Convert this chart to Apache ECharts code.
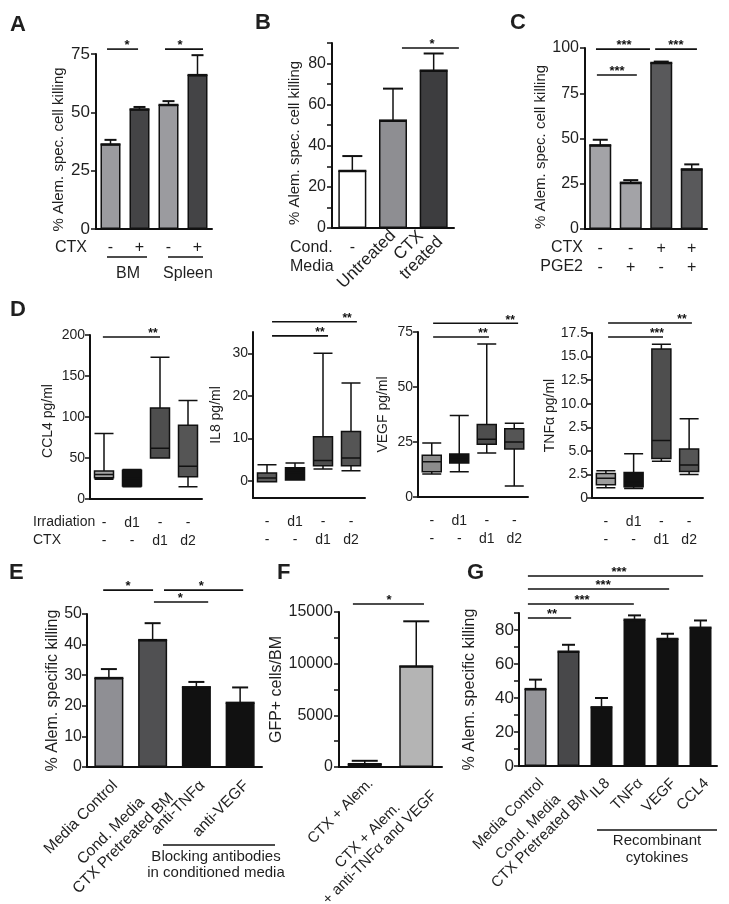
<!DOCTYPE html>
<html><head><meta charset="utf-8">
<script src="https://cdn.jsdelivr.net/npm/echarts@6/dist/echarts.min.js"></script>
<style>html,body{margin:0;padding:0;background:#fff}#c{width:729px;height:904px}</style>
</head><body><div id="c"></div>
<script>
// ================= DATA =================
// Panel A
const catA = ['-', '+', '-', '+'];
const meanA = [36.3, 51.3, 53.2, 66.0];
const upperA = [38.2, 52.3, 54.8, 74.5];
// Panel B
const catB = ['-', 'Untreated', 'CTX\ntreated'];
const meanB = [27.8, 52.3, 76.6];
const upperB = [35.0, 67.8, 84.9];
// Panel C (CTX row / PGE2 row)
const catC = ['-\n-', '-\n+', '+\n-', '+\n+'];
const meanC = [46.3, 25.6, 91.8, 33.0];
const upperC = [49.3, 27.0, 92.5, 35.7];
// Panel D (Irradiation row / CTX row); boxes: [min, Q1, median, Q3, max]
const catD = ['-\n-', 'd1\n-', '-\nd1', '-\nd2'];
const boxCCL4 = [[24, 26, 30, 34, 80], [15, 16, 25, 35, 36], [50, 50, 62, 111, 173], [15, 27, 40, 90, 120]];
const boxIL8 = [[-0.2, -0.2, 0.7, 1.9, 3.8], [0.2, 0.2, 2.0, 3.1, 4.2], [2.8, 3.6, 4.8, 10.4, 30], [2.4, 3.6, 5.4, 11.6, 23]];
const boxVEGF = [[10.5, 11.5, 16, 19, 24.5], [11.5, 15.5, 17, 19.5, 37], [20, 24, 26.3, 33, 69.5], [5, 21.8, 25, 31, 33.5]];
const boxTNF = [[1.1, 1.4, 2.1, 2.6, 2.9], [1.0, 1.2, 1.7, 2.7, 4.7], [3.9, 4.2, 6.1, 15.8, 16.3], [2.5, 2.8, 3.5, 5.2, 8.4]];
const il8Ticks = [0, 10, 20, 30];
const tnfTicks = ['0', '2.5', '5.0', '2.5', '10.0', '12.5', '15.0', '17.5'];
// Panel E
const catE = ['Media Control', 'Cond. Media\nCTX Pretreated BM', 'anti-TNFα', 'anti-VEGF'];
const meanE = [29.1, 41.5, 26.1, 21.0];
const upperE = [32.0, 47.0, 27.8, 26.0];
// Panel F
const catF = ['CTX + Alem.', 'CTX + Alem.\n+ anti-TNFα and VEGF'];
const meanF = [280, 9750];
const upperF = [600, 14100];
// Panel G
const catG = ['Media Control', 'Cond. Media\nCTX Pretreated BM', 'IL8', 'TNFα', 'VEGF', 'CCL4'];
const meanG = [45.3, 67.3, 34.6, 86.1, 74.8, 81.4];
const upperG = [50.8, 71.3, 40.0, 88.6, 77.8, 85.6];
// Significance brackets: [from, to, y, label x] (category units / value units) and their labels
const sigA = [[-0.12, 0.95, 77.1, 0.57], [1.88, 3.19, 77.1, 2.40]];
const starA = ['*', '*'];
const sigB = [[1.22, 2.62, 87.6, 1.96]];
const starB = ['*'];
const sigC = [[-0.14, 1.63, 99.4, 0.78], [1.80, 3.17, 99.4, 2.48], [-0.11, 1.20, 85.1, 0.55]];
const starC = ['***', '***', '***'];
const sigD1 = [[-0.04, 2.0, 197.5, 1.75]];
const starD1 = ['**'];
const sigD2 = [[0.18, 3.21, 37.4, 2.86], [0.18, 2.18, 34.1, 1.89]];
const starD2 = ['**', '**'];
const sigD3 = [[0.05, 3.14, 79.0, 2.85], [0.05, 2.08, 72.7, 1.86]];
const starD3 = ['**', '**'];
const sigD4 = [[0.08, 3.10, 18.56, 2.74], [0.08, 2.06, 17.07, 1.84]];
const starD4 = ['**', '***'];
const sigE = [[-0.13, 1.01, 57.8, 0.44], [1.26, 3.07, 57.8, 2.11], [1.03, 2.27, 53.9, 1.63]];
const starE = ['*', '*', '*'];
const sigF = [[-0.23, 1.15, 15774, 0.47]];
const starF = ['*'];
const sigG = [[-0.23, 5.08, 111.8, 2.53], [-0.23, 4.05, 104.1, 2.05], [-0.23, 2.98, 95.3, 1.41], [-0.23, 1.08, 87.1, 0.5]];
const starG = ['***', '***', '***', '**'];

// ================= BUILD =================
const FONT = '"Liberation Sans", Arial, Helvetica, sans-serif';
const TXT = '#1f1f1f';
const INK = '#111';
const option = { animation: false, backgroundColor: '#fff', grid: [], xAxis: [], yAxis: [], series: [], graphic: [] };

function centeredRich(v) {
  return String(v).split('\n').map(s => '{c|' + s + '}').join('\n');
}

function addPanel(p) {
  const gi = option.grid.length;
  option.grid.push(Object.assign({ outerBoundsMode: 'none', containLabel: false }, p.box));
  const xi = option.xAxis.length;
  option.xAxis.push({
    type: 'category', gridIndex: gi, data: p.cats, position: 'bottom',
    axisLine: { onZero: false, lineStyle: { color: INK, width: 2 } },
    axisTick: { alignWithLabel: true, length: 5, lineStyle: { color: INK, width: 1.5 } },
    axisLabel: Object.assign({ interval: 0, color: TXT, fontFamily: FONT, fontSize: p.fs || 16, hideOverlap: false }, p.xLabel || {}),
    splitLine: { show: false }
  });
  const hx = option.xAxis.length;
  option.xAxis.push({ type: 'value', gridIndex: gi, min: -0.5, max: p.cats.length - 0.5, show: false, axisLine: { onZero: false }, splitLine: { show: false } });
  const yi = option.yAxis.length;
  const y = {
    type: 'value', gridIndex: gi, name: p.yName, nameLocation: 'middle', nameGap: p.nameGap, nameRotate: 90,
    nameTextStyle: { fontFamily: FONT, fontSize: p.nfs || 15, color: TXT, padding: p.namePad || 0 },
    axisLine: { show: true, onZero: false, lineStyle: { color: INK, width: 2 } },
    axisTick: Object.assign({ show: true, length: 5, lineStyle: { color: INK, width: 1.5 } }, p.yTick || {}),
    axisLabel: Object.assign({ color: TXT, fontFamily: FONT, fontSize: p.yfs || p.fs || 16, margin: p.yMargin || 6, showMinLabel: true, showMaxLabel: true, hideOverlap: false }, p.yLabel || {}),
    splitLine: { show: false }
  };
  Object.assign(y, p.yRange);
  option.yAxis.push(y);
  return { gi, xi, hx, yi };
}

function addBars(ax, means, uppers, colors, barW, cap) {
  option.series.push({
    type: 'bar', xAxisIndex: ax.xi, yAxisIndex: ax.yi, barWidth: barW, z: 2,
    data: means.map((v, i) => ({ value: v, itemStyle: { color: colors[i], borderColor: INK, borderWidth: 1.5 } }))
  });
  option.series.push({
    type: 'custom', xAxisIndex: ax.xi, yAxisIndex: ax.yi, z: 3, clip: false,
    encode: { x: 0, y: 1 },
    data: means.map((v, i) => [i, v, uppers[i]]),
    renderItem(params, api) {
      const p0 = api.coord([api.value(0), api.value(1)]);
      const p1 = api.coord([api.value(0), api.value(2)]);
      return {
        type: 'group', children: [
          { type: 'line', shape: { x1: p0[0] - barW / 2, y1: p0[1], x2: p0[0] + barW / 2, y2: p0[1] }, style: { stroke: INK, lineWidth: 2.2 } },
          { type: 'line', shape: { x1: p0[0], y1: p0[1], x2: p1[0], y2: p1[1] }, style: { stroke: INK, lineWidth: 1.5 } },
          { type: 'line', shape: { x1: p1[0] - cap, y1: p1[1], x2: p1[0] + cap, y2: p1[1] }, style: { stroke: INK, lineWidth: 2 } }
        ]
      };
    }
  });
}

function addBoxes(ax, data, colors) {
  option.series.push({
    type: 'boxplot', xAxisIndex: ax.xi, yAxisIndex: ax.yi, boxWidth: [19, 19],
    data: data.map((d, i) => ({ value: d, itemStyle: { color: colors[i], borderColor: INK, borderWidth: 1.5 } }))
  });
}

function addSig(ax, sig, stars, fs) {
  option.series.push({
    type: 'custom', xAxisIndex: ax.hx, yAxisIndex: ax.yi, z: 4, clip: false,
    encode: { x: 0, y: 2 },
    data: sig,
    renderItem(params, api) {
      const a = api.coord([api.value(0), api.value(2)]);
      const b = api.coord([api.value(1), api.value(2)]);
      const s = api.coord([api.value(3), api.value(2)]);
      return {
        type: 'group', children: [
          { type: 'line', shape: { x1: a[0], y1: a[1], x2: b[0], y2: a[1] }, style: { stroke: INK, lineWidth: 1.6 } },
          { type: 'text', x: s[0], y: a[1] + 3, style: { text: stars[params.dataIndex], fill: INK, font: 'bold ' + fs + 'px ' + FONT, align: 'center', verticalAlign: 'bottom' } }
        ]
      };
    }
  });
}

function txt(x, y, text, fs, align, weight) {
  option.graphic.push({ type: 'text', x: x, y: y, z: 10, style: { text: text, fill: TXT, font: (weight || 'normal') + ' ' + fs + 'px ' + FONT, align: align || 'left', verticalAlign: 'middle' } });
}
function hline(x1, x2, y) {
  option.graphic.push({ type: 'line', z: 10, shape: { x1: x1, y1: y, x2: x2, y2: y }, style: { stroke: INK, lineWidth: 1.6 } });
}

const rot45 = (margin, fs) => ({
  rotate: 45, margin: margin, align: 'right', verticalAlign: 'top', fontSize: fs,
  formatter: centeredRich,
  rich: { c: { align: 'center', fontSize: fs, fontFamily: FONT, color: TXT, lineHeight: fs + 2 } }
});

// ---- A ----
const aA = addPanel({ box: { left: 96, top: 54, width: 116, height: 175 }, cats: catA, yName: '% Alem. spec. cell killing', nameGap: 30, namePad: [0, 16, 0, 0],
  yRange: { min: 0, max: 75, interval: 25 }, xLabel: { margin: 11 }, yfs: 17 });
addBars(aA, meanA, upperA, ['#9b9b9f', '#444446', '#9b9b9f', '#444446'], 20, 6);
addSig(aA, sigA, starA, 13);

// ---- B ----
const aB = addPanel({ box: { left: 332, top: 43, width: 122, height: 185 }, cats: catB, yName: '% Alem. spec. cell killing', nameGap: 30, namePad: [0, 15, 0, 0],
  yRange: { min: 0, max: 90, interval: 10 }, yLabel: { formatter: v => (v % 20 === 0 ? String(v) : '') },
  xLabel: { rotate: 45, margin: 5, fontSize: 17, formatter: (v, i) => (i === 0 ? '' : centeredRich(v)),
    rich: { c: { align: 'center', fontSize: 17, fontFamily: FONT, color: TXT, lineHeight: 18 } } } });
option.xAxis.push({ type: 'category', gridIndex: aB.gi, data: catB, position: 'bottom', axisLine: { show: false, onZero: false }, axisTick: { show: false },
  axisLabel: { interval: 0, margin: 12, color: TXT, fontFamily: FONT, fontSize: 16, formatter: (v, i) => (i === 0 ? v : '') } });
addBars(aB, meanB, upperB, ['#ffffff', '#8e8e92', '#3d3d3f'], 28, 10);
addSig(aB, sigB, starB, 13);

// ---- C ----
const aC = addPanel({ box: { left: 585, top: 48, width: 122, height: 181 }, cats: catC, yName: '% Alem. spec. cell killing', nameGap: 30, namePad: [0, 17, 0, 0],
  yRange: { min: 0, max: 100, interval: 25 }, xLabel: { margin: 10, lineHeight: 19 } });
addBars(aC, meanC, upperC, ['#a3a3a7', '#a3a3a7', '#59595b', '#59595b'], 22, 7.5);
addSig(aC, sigC, starC, 13);

// ---- D ----
const dX = { margin: 15, lineHeight: 18 };
const aD1 = addPanel({ box: { left: 90, top: 335, width: 112, height: 164 }, cats: catD, yName: 'CCL4 pg/ml', nameGap: 35, nfs: 14, fs: 14, namePad: [0, 8, 0, 0],
  yRange: { min: 0, max: 200, interval: 50 }, xLabel: dX, yMargin: 5 });
addBoxes(aD1, boxCCL4, ['#a5a5a5', '#111111', '#4e4e4e', '#555555']);
addSig(aD1, sigD1, starD1, 12);
const aD2 = addPanel({ box: { left: 253, top: 332, width: 112, height: 166 }, cats: catD, yName: 'IL8 pg/ml', nameGap: 30, nfs: 14, fs: 14,
  yRange: { min: -4, max: 35 }, yLabel: { customValues: il8Ticks }, yTick: { customValues: il8Ticks }, xLabel: dX, yMargin: 5 });
addBoxes(aD2, boxIL8, ['#5a5a5a', '#111111', '#4e4e4e', '#555555']);
addSig(aD2, sigD2, starD2, 12);
const aD3 = addPanel({ box: { left: 418, top: 332, width: 110, height: 165 }, cats: catD, yName: 'VEGF pg/ml', nameGap: 28, nfs: 14, fs: 14,
  yRange: { min: 0, max: 75, interval: 25 }, xLabel: dX, yMargin: 5 });
addBoxes(aD3, boxVEGF, ['#8c8c8c', '#111111', '#4e4e4e', '#555555']);
addSig(aD3, sigD3, starD3, 12);
const aD4 = addPanel({ box: { left: 592, top: 333, width: 111, height: 165 }, cats: catD, yName: 'TNFα pg/ml', nameGap: 35, nfs: 14, fs: 14,
  yRange: { min: 0, max: 17.5, interval: 2.5 }, yLabel: { formatter: v => tnfTicks[Math.round(v / 2.5)] }, xLabel: dX, yMargin: 4 });
addBoxes(aD4, boxTNF, ['#9d9d9d', '#111111', '#4e4e4e', '#555555']);
addSig(aD4, sigD4, starD4, 12);

// ---- E ----
const aE = addPanel({ box: { left: 87, top: 614, width: 175, height: 153 }, cats: catE, yName: '% Alem. specific killing', nameGap: 26, nfs: 16,
  yRange: { min: 0, max: 50, interval: 10 }, xLabel: rot45(10, 15.5), yMargin: 5 });
addBars(aE, meanE, upperE, ['#8f8f94', '#505052', '#111111', '#111111'], 29, 8);
addSig(aE, sigE, starE, 13);

// ---- F ----
const aF = addPanel({ box: { left: 339, top: 612, width: 103, height: 155 }, cats: catF, yName: 'GFP+ cells/BM', nameGap: 45, nfs: 16,
  yRange: { min: 0, max: 15000, interval: 2500 }, yLabel: { formatter: v => (v % 5000 === 0 ? String(v) : '') }, xLabel: rot45(8, 15), yMargin: 6 });
addBars(aF, meanF, upperF, ['#2e2e2e', '#b4b4b4'], 34, 13);
addSig(aF, sigF, starF, 13);

// ---- G ----
const aG = addPanel({ box: { left: 519, top: 613, width: 198, height: 153 }, cats: catG, yName: '% Alem. specific killing', nameGap: 41, nfs: 16,
  yRange: { min: 0, max: 90, interval: 10 }, yLabel: { formatter: v => (v % 20 === 0 ? String(v) : '') }, xLabel: rot45(9, 15), yMargin: 5, yfs: 17 });
addBars(aG, meanG, upperG, ['#949498', '#48484a', '#111111', '#111111', '#111111', '#111111'], 22, 6.5);
addSig(aG, sigG, starG, 13);

// ---- panel letters & group labels ----
txt(10, 24.5, 'A', 22, 'left', 'bold');
txt(255, 22.5, 'B', 22, 'left', 'bold');
txt(510, 22.5, 'C', 22, 'left', 'bold');
txt(10, 310, 'D', 22, 'left', 'bold');
txt(9, 573, 'E', 22, 'left', 'bold');
txt(277, 573, 'F', 22, 'left', 'bold');
txt(467, 573, 'G', 22, 'left', 'bold');

txt(55, 248, 'CTX', 16);
hline(107, 147, 257); hline(168, 203, 257);
txt(128, 274, 'BM', 16, 'center');
txt(188, 274, 'Spleen', 16, 'center');

txt(290, 248, 'Cond.', 16);
txt(290, 267, 'Media', 16);

txt(583, 248, 'CTX', 16, 'right');
txt(583, 267, 'PGE2', 16, 'right');

txt(33, 522, 'Irradiation', 14);
txt(33, 540, 'CTX', 14);

hline(163, 275, 845);
txt(216, 857, 'Blocking antibodies', 15, 'center');
txt(216, 873, 'in conditioned media', 15, 'center');

hline(597, 717, 830);
txt(657, 841, 'Recombinant', 15, 'center');
txt(657, 858, 'cytokines', 15, 'center');

const chart = echarts.init(document.getElementById('c'), null, { renderer: 'canvas', width: 729, height: 904 });
chart.setOption(option);
</script>
</body></html>
